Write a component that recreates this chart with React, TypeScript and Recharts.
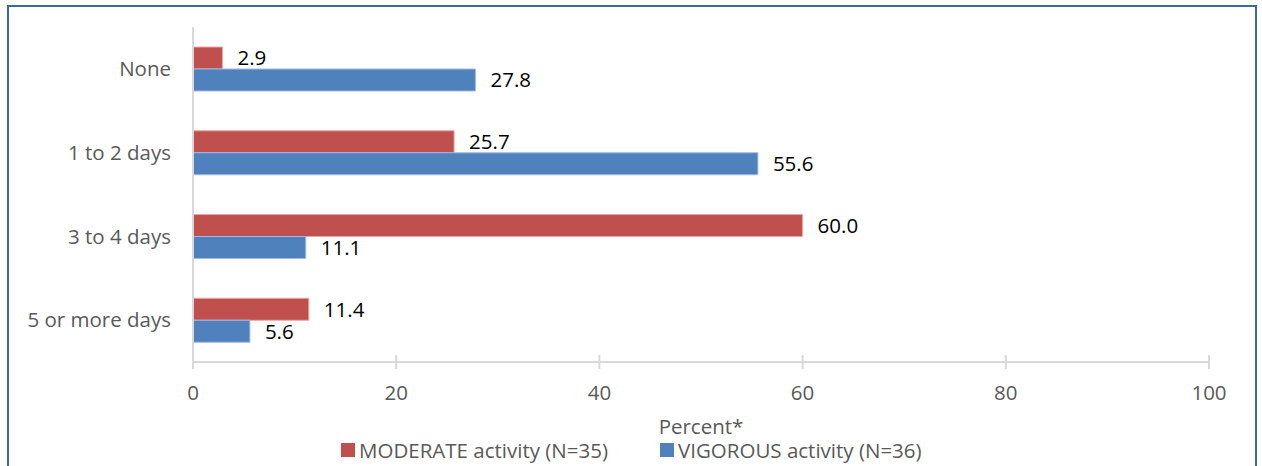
import React from "react";
import { BarChart, Bar, XAxis, YAxis, Legend, LabelList } from "recharts";

const categories = ["None", "1 to 2 days", "3 to 4 days", "5 or more days"];
const moderate = [2.9, 25.7, 60.0, 11.4];
const vigorous = [27.8, 55.6, 11.1, 5.6];
const xTicks = [0, 20, 40, 60, 80, 100];

const MOD_NAME = "MODERATE activity (N=35)";
const VIG_NAME = "VIGOROUS activity (N=36)";

const data = categories.map((c, i) => ({
  category: c,
  moderate: moderate[i],
  vigorous: vigorous[i],
}));

const FONT = "'Open Sans', Lato, sans-serif";
const FS = 20.5;

function XTick({ x, y, payload }: any) {
  return (
    <g>
      <line x1={x} x2={x} y1={y - 7} y2={y + 7} stroke="#d9d9d9" strokeWidth={2} />
      <text x={x} y={y + 33} textAnchor="middle" dominantBaseline="middle" fill="#595959" fontSize={FS} fontFamily={FONT}>
        {payload.value}
      </text>
    </g>
  );
}

function LegendContent() {
  const items = [
    { name: MOD_NAME, color: "#c0504d" },
    { name: VIG_NAME, color: "#4f81bd" },
  ];
  return (
    <div style={{ display: "flex", alignItems: "center", paddingLeft: 341, fontFamily: FONT, fontSize: FS, color: "#595959", lineHeight: "20px" }}>
      {items.map((it, i) => (
        <div key={it.name} style={{ display: "flex", alignItems: "center", marginRight: i === 0 ? 52 : 0 }}>
          <span style={{ width: 14, height: 14, background: it.color, marginRight: 4, display: "inline-block" }} />
          <span>{it.name}</span>
        </div>
      ))}
    </div>
  );
}

export default function App() {
  return (
    <div style={{ position: "relative", width: 1262, height: 466, overflow: "hidden", background: "#fff" }}>
      <style>{"body{margin:0}"}</style>
      <div
        style={{
          position: "absolute",
          left: 7,
          top: 5,
          width: 1246,
          height: 500,
          border: "2px solid #3f66a0",
        }}
      />
      <div style={{ position: "absolute", left: 0, top: 0 }}>
        <BarChart
          width={1262}
          height={466}
          layout="vertical"
          data={data}
          margin={{ top: 27, right: 53, left: 8, bottom: 0 }}
          barGap={0}
          barSize={22}
        >
          <XAxis
            type="number"
            domain={[0, 100]}
            ticks={xTicks}
            axisLine={{ stroke: "#d9d9d9", strokeWidth: 2 }}
            tickLine={false}
            tickSize={0}
            tickMargin={0}
            tick={<XTick />}
            height={78}
            label={{ value: "Percent*", position: "insideBottom", offset: 6, fill: "#595959", fontSize: FS, fontFamily: FONT }}
          />
          <YAxis
            type="category"
            dataKey="category"
            width={185}
            axisLine={{ stroke: "#d9d9d9", strokeWidth: 2 }}
            tickLine={false}
            tickSize={0}
            tickMargin={22}
            tick={{ fill: "#595959", fontSize: FS, fontFamily: FONT }}
          />
          <Legend verticalAlign="bottom" height={26} content={<LegendContent />} wrapperStyle={{ left: 0, width: 1262 }} />
          <Bar dataKey="moderate" name={MOD_NAME} fill="#c0504d" stroke="#e6a9a7" strokeWidth={1} isAnimationActive={false}>
            <LabelList dataKey="moderate" position="right" offset={15} formatter={(v: any) => Number(v).toFixed(1)} fill="#000" fontSize={FS} fontFamily={FONT} />
          </Bar>
          <Bar dataKey="vigorous" name={VIG_NAME} fill="#4f81bd" stroke="#9dbbe0" strokeWidth={1} isAnimationActive={false}>
            <LabelList dataKey="vigorous" position="right" offset={15} formatter={(v: any) => Number(v).toFixed(1)} fill="#000" fontSize={FS} fontFamily={FONT} />
          </Bar>
        </BarChart>
      </div>
    </div>
  );
}
